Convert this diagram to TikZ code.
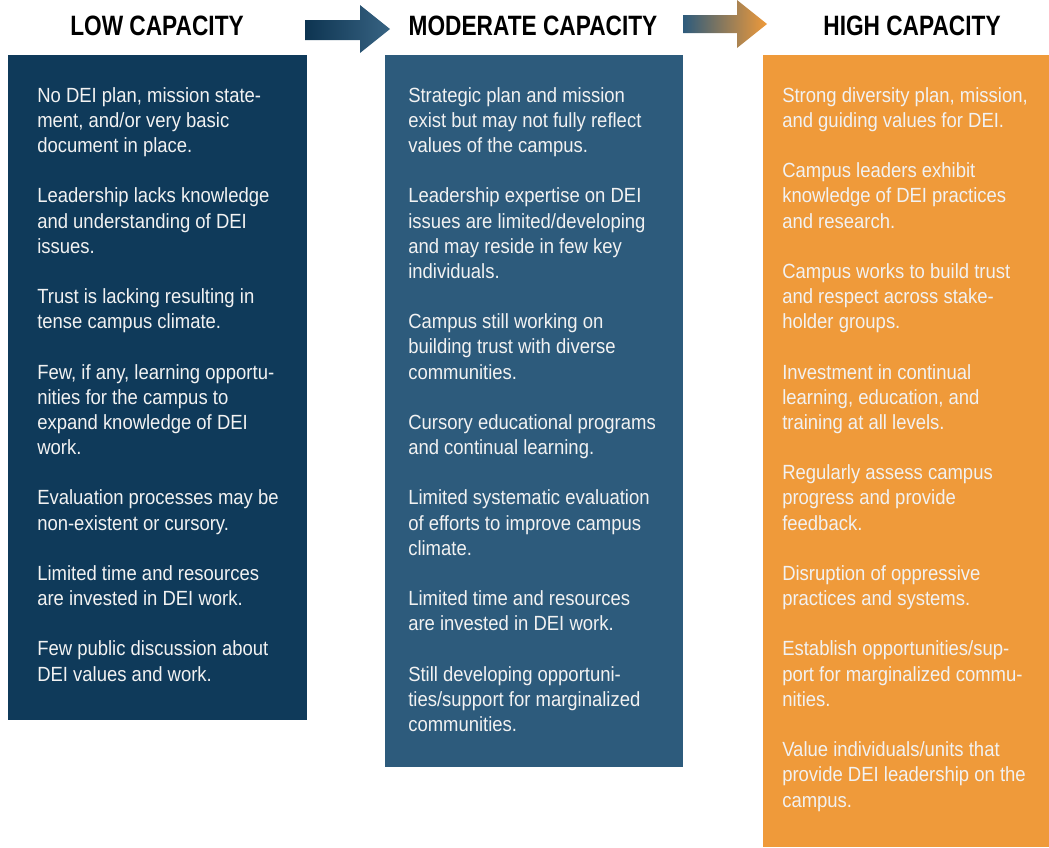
\documentclass[tikz,border=0pt]{standalone}
\usepackage{fontspec}
\setmainfont{Liberation Sans}[FakeStretch=0.9]
\newfontfamily\headfont{Liberation Sans}[FakeStretch=0.81]
\usetikzlibrary{positioning}

\definecolor{lowblue}{HTML}{0F3A5A}
\definecolor{modblue}{HTML}{2D5B7C}
\definecolor{highorange}{HTML}{EF9A3A}
\definecolor{boxtext}{HTML}{F2F2F2}

\tikzset{
	heading/.style={font=\headfont\bfseries\fontsize{21pt}{24pt}\selectfont, inner sep=0pt},
	itemtext/.style={font=\fontsize{15.4pt}{18.88pt}\selectfont, text=boxtext, align=left, anchor=north west, inner sep=0pt},
	colbox/.style={draw=none, inner sep=0pt, anchor=north west}
}

\begin{document}
\begin{tikzpicture}[x=0.75pt, y=-0.75pt]
	\useasboundingbox (0,0) rectangle (1049,847);
	% column boxes
	\node[colbox, fill=lowblue, minimum width=224.25pt, minimum height=498.75pt] (lowbox) at (8,55) {};
	\node[colbox, fill=modblue, minimum width=223.5pt, minimum height=534pt] (modbox) at (385,55) {};
	\node[colbox, fill=highorange, minimum width=214.5pt, minimum height=594pt] (highbox) at (763,55) {};
	% headings
	\node[heading] (low) at (157,26) {LOW CAPACITY};
	\node[heading] (moderate) at (533,26) {MODERATE CAPACITY};
	\node[heading] (high) at (912,26) {HIGH CAPACITY};
	% arrows
	\shade[left color=lowblue!90!black, right color=modblue!95!white] (305,20) -- (360,20) -- (360,5) -- (390,29) -- (360,53) -- (360,40) -- (305,40) -- cycle;
	\shade[left color=modblue, right color=highorange] (683,15) -- (737,15) -- (737,0) -- (767,24) -- (737,48) -- (737,33) -- (683,33) -- cycle;
	% low capacity
	\node[itemtext] (lowtext) at (37,87) {No DEI plan, mission state-\\ment, and/or very basic\\document in place.\\[18.88pt]
		Leadership lacks knowledge\\and understanding of DEI\\issues.\\[18.88pt]
		Trust is lacking resulting in\\tense campus climate.\\[18.88pt]
		Few, if any, learning opportu-\\nities for the campus to\\expand knowledge of DEI\\work.\\[18.88pt]
		Evaluation processes may be\\non-existent or cursory.\\[18.88pt]
		Limited time and resources\\are invested in DEI work.\\[18.88pt]
		Few public discussion about\\DEI values and work.};
	% moderate capacity
	\node[itemtext] (modtext) at (408,87) {Strategic plan and mission\\exist but may not fully reflect\\values of the campus.\\[18.88pt]
		Leadership expertise on DEI\\issues are limited/developing\\and may reside in few key\\individuals.\\[18.88pt]
		Campus still working on\\building trust with diverse\\communities.\\[18.88pt]
		Cursory educational programs\\and continual learning.\\[18.88pt]
		Limited systematic evaluation\\of efforts to improve campus\\climate.\\[18.88pt]
		Limited time and resources\\are invested in DEI work.\\[18.88pt]
		Still developing opportuni-\\ties/support for marginalized\\communities.};
	% high capacity
	\node[itemtext] (hightext) at (782,87) {Strong diversity plan, mission,\\and guiding values for DEI.\\[18.88pt]
		Campus leaders exhibit\\knowledge of DEI practices\\and research.\\[18.88pt]
		Campus works to build trust\\and respect across stake-\\holder groups.\\[18.88pt]
		Investment in continual\\learning, education, and\\training at all levels.\\[18.88pt]
		Regularly assess campus\\progress and provide\\feedback.\\[18.88pt]
		Disruption of oppressive\\practices and systems.\\[18.88pt]
		Establish opportunities/sup-\\port for marginalized commu-\\nities.\\[18.88pt]
		Value individuals/units that\\provide DEI leadership on the\\campus.};
\end{tikzpicture}
\end{document}
